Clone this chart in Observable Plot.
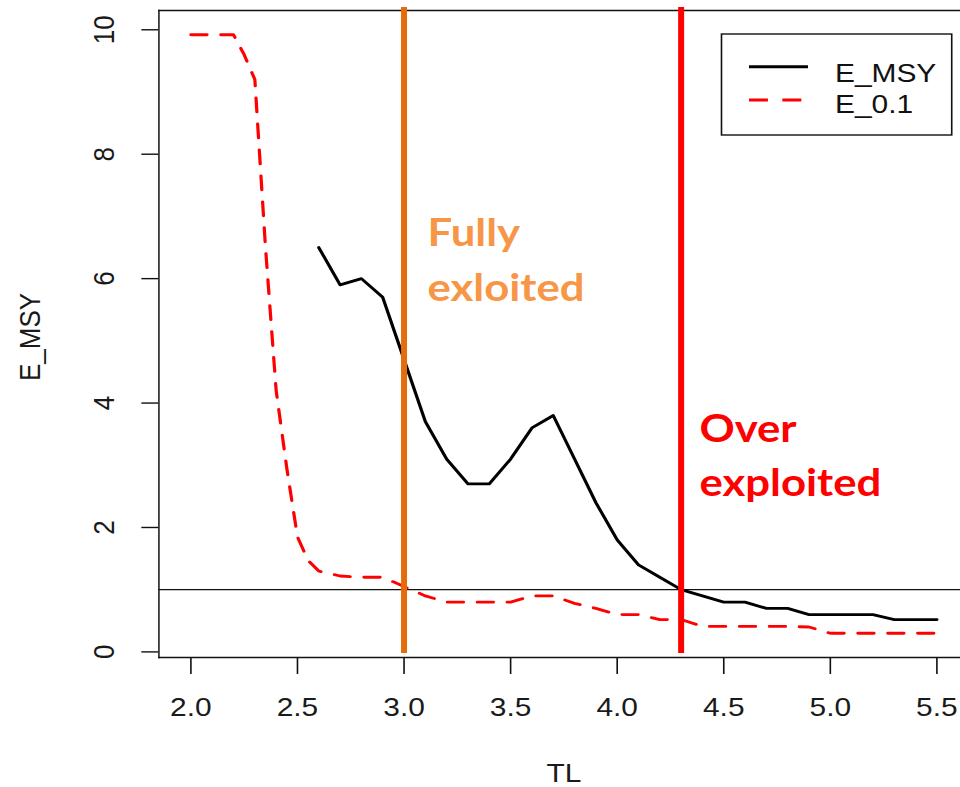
<!DOCTYPE html>
<html><head><meta charset="utf-8">
<script src="https://cdn.jsdelivr.net/npm/d3@7"></script>
<script src="https://cdn.jsdelivr.net/npm/@observablehq/plot@0.6"></script>
<style>
html,body{margin:0;padding:0;background:#fff;}
#wrap{position:relative;width:960px;height:787px;overflow:hidden;background:#fff;}
#legend{position:absolute;left:720px;top:32px;}
</style></head><body><div id="wrap"></div>
<script>
// ---- data ----
const TL_MSY = [2.6, 2.7, 2.8, 2.9, 3.0, 3.1, 3.2, 3.3, 3.4, 3.5, 3.6, 3.7, 3.8, 3.9, 4.0, 4.1, 4.2, 4.3, 4.4, 4.5, 4.6, 4.7, 4.8, 4.9, 5.0, 5.1, 5.2, 5.3, 5.4, 5.5];
const E_MSY  = [6.5, 5.9, 6.0, 5.7, 4.7, 3.7, 3.1, 2.7, 2.7, 3.1, 3.6, 3.8, 3.1, 2.4, 1.8, 1.4, 1.2, 1.0, 0.9, 0.8, 0.8, 0.7, 0.7, 0.6, 0.6, 0.6, 0.6, 0.52, 0.52, 0.52];
const TL_01  = [2.0, 2.1, 2.2, 2.25, 2.3, 2.35, 2.4, 2.45, 2.5, 2.55, 2.6, 2.7, 2.8, 2.9, 3.0, 3.1, 3.2, 3.3, 3.4, 3.5, 3.6, 3.7, 3.8, 3.9, 4.0, 4.1, 4.2, 4.3, 4.4, 4.5, 4.6, 4.7, 4.8, 4.9, 5.0, 5.1, 5.2, 5.3, 5.4, 5.5];
const E_01   = [9.92, 9.92, 9.92, 9.6, 9.2, 6.5, 4.2, 2.95, 1.85, 1.47, 1.3, 1.22, 1.2, 1.2, 1.05, 0.9, 0.8, 0.8, 0.8, 0.8, 0.9, 0.9, 0.78, 0.7, 0.6, 0.6, 0.52, 0.52, 0.41, 0.41, 0.41, 0.41, 0.41, 0.4, 0.3, 0.3, 0.3, 0.3, 0.3, 0.3];
const xTicks = [2.0, 2.5, 3.0, 3.5, 4.0, 4.5, 5.0, 5.5];
const yTicks = [0, 2, 4, 6, 8, 10];
const refLevel = [1];
const boundaryTL = [3.0, 4.3];
const boundaryColors = ["#E46C0A", "#FF0000"];
const boundaryLabels = [["Fully", "exloited"], ["Over", "exploited"]];
const labelColors = ["#F79646", "#FF0000"];
const seriesNames = ["E_MSY", "E_0.1"];
const xLabel = "TL";
const yLabel = "E_MSY";

// ---- chart ----
const K = 1.15;            // horizontal stretch of the original figure
const W = 842, H = 787;
const msy = TL_MSY.map((x, i) => ({TL: x, E: E_MSY[i]}));
const e01 = TL_01.map((x, i) => ({TL: x, E: E_01[i]}));

const labelBaselines = [[235, 290], [431.7, 485]];
const labelDx = [20.4, 15.9];
const annotationMarks = [];
boundaryTL.forEach((tl, b) => {
  annotationMarks.push(Plot.ruleX([tl], {stroke: boundaryColors[b], strokeWidth: 5.2, insetTop: -3, insetBottom: 4}));
  boundaryLabels[b].forEach((txt, l) => {
    annotationMarks.push(Plot.text([{TL: tl, t: txt}], {
      x: "TL", text: "t", frameAnchor: "top", dy: labelBaselines[b][l], dx: labelDx[b],
      textAnchor: "start", lineAnchor: "bottom", fill: labelColors[b],
      fontFamily: "Lato, 'Open Sans', sans-serif", fontWeight: "bold", fontSize: 38
    }));
  });
});

const plot = Plot.plot({
  width: W, height: H,
  marginLeft: 137.7, marginRight: 0, marginTop: 10, marginBottom: 130,
  style: {fontFamily: "'Liberation Sans', Arial, sans-serif", fontSize: "26px", color: "#1a1a1a", background: "#fff"},
  x: {domain: [1.85, 5.65]},
  y: {domain: [-0.09, 10.31]},
  marks: [
    Plot.frame({anchor: "left", stroke: "#111", strokeWidth: 1.3}),
    Plot.frame({anchor: "top", stroke: "#111", strokeWidth: 1.3}),
    Plot.frame({anchor: "bottom", stroke: "#111", strokeWidth: 1.3}),
    Plot.axisX({ticks: xTicks, tickFormat: d3.format(".1f"), tickSize: 17, tickPadding: 23, label: null, stroke: "#111", strokeWidth: 1.4, fontSize: 26}),
    Plot.axisY({ticks: yTicks, tickFormat: d3.format("d"), tickSize: 14.8, tickPadding: 24.6, tickRotate: -90, label: null, stroke: "#111", strokeWidth: 1.4, fontSize: 26}),
    Plot.text([xLabel], {text: d => d, frameAnchor: "bottom", textAnchor: "middle", lineAnchor: "middle", dy: 116, fontSize: 26}),
    Plot.text([yLabel], {text: d => d, frameAnchor: "left", rotate: -90, textAnchor: "middle", lineAnchor: "middle", dx: -111.5, dy: 3, fontSize: 26}),
    Plot.ruleY(refLevel, {stroke: "#111", strokeWidth: 1.3}),
    Plot.line(msy, {x: "TL", y: "E", stroke: "#000", strokeWidth: 2.8}),
    Plot.line(e01, {x: "TL", y: "E", stroke: "#FF0000", strokeWidth: 2.8, strokeDasharray: "14,12"}),
    ...annotationMarks
  ]
});
plot.setAttribute("width", W * K);
plot.setAttribute("height", H);
plot.setAttribute("preserveAspectRatio", "none");
plot.style.width = (W * K) + "px";
plot.style.height = H + "px";
plot.style.maxWidth = "none";
document.getElementById("wrap").appendChild(plot);

// ---- legend (R-style box) ----
const LW = 234, LH = 106, LWi = LW / K;
const leg = d3.create("svg").attr("id", "legend")
  .attr("width", LW).attr("height", LH)
  .attr("viewBox", `0 0 ${LWi} ${LH}`).attr("preserveAspectRatio", "none");
leg.append("rect").attr("x", 1.3).attr("y", 2).attr("width", 200.2).attr("height", 101)
  .attr("fill", "#fff").attr("stroke", "#111").attr("stroke-width", 1.4);
const legLines = [{y: 34.7, stroke: "#000", dash: null}, {y: 68, stroke: "#FF0000", dash: "16.5,12.5"}];
const legText = [49.7, 81.3];
seriesNames.forEach((name, i) => {
  const ln = leg.append("line").attr("x1", 25.2).attr("x2", 76.5).attr("y1", legLines[i].y).attr("y2", legLines[i].y)
    .attr("stroke", legLines[i].stroke).attr("stroke-width", 3);
  if (legLines[i].dash) ln.attr("stroke-dasharray", legLines[i].dash);
  leg.append("text").attr("x", 100).attr("y", legText[i]).text(name)
    .attr("font-family", "'Liberation Sans', Arial, sans-serif").attr("font-size", 26).attr("fill", "#111");
});
document.getElementById("wrap").appendChild(leg.node());
</script>
</body></html>
